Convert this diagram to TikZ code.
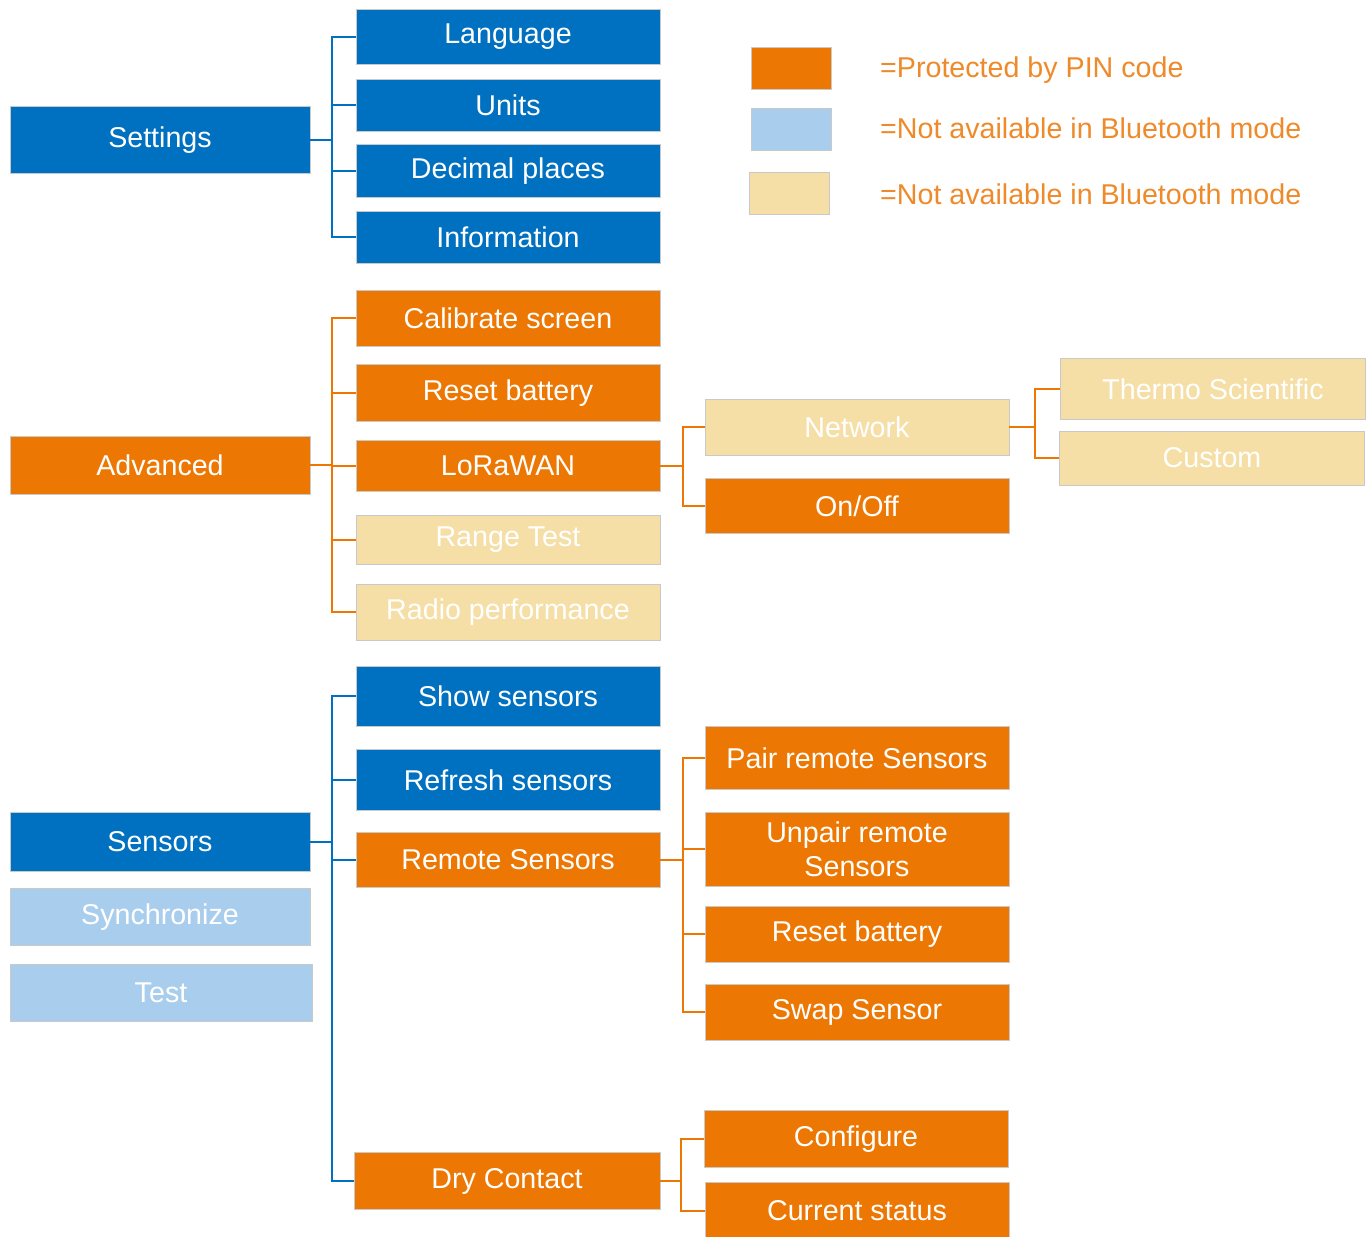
\documentclass[tikz,border=0pt]{standalone}
\usepackage{fontspec}
\setmainfont{Liberation Sans}
\usepackage{tikz}
\usetikzlibrary{positioning}
\definecolor{TSblue}{HTML}{0070C0}
\definecolor{TSorange}{HTML}{ED7703}
\definecolor{TSlightblue}{HTML}{A9CDED}
\definecolor{TSbeige}{HTML}{F5DFA6}
\definecolor{TSedge}{HTML}{C9C9C9}
\definecolor{TSlegend}{HTML}{EF8A2A}

\tikzset{
  menubox/.style={rectangle, draw=TSedge, line width=0.3pt, text=white,
    font=\fontsize{16.3}{19.5}\selectfont, minimum width=6.08cm,
    minimum height=1.1cm, inner sep=0pt, align=center},
  topbox/.style={menubox, minimum width=6cm, minimum height=1.16cm},
  bluebox/.style={fill=TSblue},
  pinbox/.style={fill=TSorange},
  nobtbox/.style={fill=TSlightblue},
  beigebox/.style={fill=TSbeige},
  legendbox/.style={rectangle, draw=TSedge, line width=0.3pt,
    minimum width=1.6cm, minimum height=0.84cm, inner sep=0pt},
  legendtext/.style={anchor=west, text=TSlegend, font=\fontsize{16.3}{19}\selectfont},
  bluelink/.style={draw=TSblue, line width=1.1pt},
  orangelink/.style={draw=TSorange, line width=1.1pt}
}

\begin{document}
\begin{tikzpicture}[x=0.02cm, y=-0.02cm]
  \useasboundingbox[fill=white] (0,0) rectangle (1369,1237);

  % legend
  \node[legendbox, pinbox] (key-pin) at (791,68) {};
  \node[legendbox, nobtbox] (key-bt) at (791,129) {};
  \node[legendbox, beigebox] (key-beige) at (789,193) {};
  \node[legendtext] (key-pin-text) at (874,70) {=Protected by PIN code};
  \node[legendtext] (key-bt-text) at (874,128) {=Not available in Bluetooth mode};
  \node[legendtext] (key-beige-text) at (874,194) {=Not available in Bluetooth mode};

  % settings
  \node[topbox, bluebox, minimum height=1.34cm] (settings) at (160,140) {Settings};
  \node[menubox, bluebox] (language) at (508,37) {Language};
  \node[menubox, bluebox, minimum height=1.04cm] (units) at (508,105) {Units};
  \node[menubox, bluebox, minimum height=1.06cm] (decimal) at (508,171) {Decimal places};
  \node[menubox, bluebox, minimum height=1.04cm] (information) at (508,237) {Information};

  \coordinate (settings-t) at (332,140);
  \draw[bluelink] (settings.east) -- (settings-t);
  \foreach \c in {language,units,decimal,information}
    \draw[bluelink] (settings-t) |- (\c.west);

  % advanced
  \node[topbox, pinbox] (advanced) at (160,465) {Advanced};
  \node[menubox, pinbox, minimum height=1.12cm] (calibrate) at (508,318) {Calibrate screen};
  \node[menubox, pinbox, minimum height=1.14cm] (resetbat) at (508,393) {Reset battery};
  \node[menubox, pinbox, minimum height=1.02cm] (lorawan) at (508,466) {LoRaWAN};
  \node[menubox, beigebox, minimum height=0.98cm] (rangetest) at (508,540) {Range Test};
  \node[menubox, beigebox, minimum height=1.12cm] (radioperf) at (508,612) {Radio performance};

  \node[menubox, beigebox, minimum height=1.12cm] (network) at (857,427) {Network};
  \node[menubox, pinbox] (onoff) at (857,506) {On/Off};
  \node[menubox, beigebox, minimum width=6.1cm, minimum height=1.22cm] (thermo) at (1213,389) {Thermo Scientific};
  \node[menubox, beigebox, minimum width=6.1cm, minimum height=1.08cm] (custom) at (1212,458) {Custom};

  \coordinate (advanced-t) at (332,465);
  \draw[orangelink] (advanced.east) -- (advanced-t);
  \foreach \c in {calibrate,resetbat,lorawan,rangetest,radioperf}
    \draw[orangelink] (advanced-t) |- (\c.west);

  \coordinate (lorawan-t) at (683,466);
  \draw[orangelink] (lorawan.east) -- (lorawan-t);
  \foreach \c in {network,onoff}
    \draw[orangelink] (lorawan-t) |- (\c.west);

  \coordinate (network-t) at (1035,427);
  \draw[orangelink] (network.east) -- (network-t);
  \foreach \c in {thermo,custom}
    \draw[orangelink] (network-t) |- (\c.west);

  % sensors
  \node[topbox, bluebox, minimum height=1.18cm] (sensors) at (160,842) {Sensors};
  \node[topbox, nobtbox, minimum height=1.14cm] (synchronize) at (160,917) {Synchronize};
  \node[topbox, nobtbox, minimum width=6.04cm, minimum height=1.14cm] (test) at (161,993) {Test};

  \node[menubox, bluebox, minimum height=1.2cm] (showsensors) at (508,696) {Show sensors};
  \node[menubox, bluebox, minimum height=1.22cm] (refresh) at (508,780) {Refresh sensors};
  \node[menubox, pinbox] (remote) at (508,860) {Remote Sensors};
  \node[menubox, pinbox, minimum width=6.12cm, minimum height=1.14cm] (drycontact) at (507,1181) {Dry Contact};

  \node[menubox, pinbox, minimum height=1.26cm] (pair) at (857,758) {Pair remote Sensors};
  \node[menubox, pinbox, minimum height=1.48cm] (unpair) at (857,849) {Unpair remote\\Sensors};
  \node[menubox, pinbox, minimum height=1.12cm] (resetbat2) at (857,934) {Reset battery};
  \node[menubox, pinbox, minimum height=1.12cm] (swap) at (857,1012) {Swap Sensor};
  \node[menubox, pinbox, minimum height=1.14cm] (configure) at (856,1139) {Configure};
  \node[menubox, pinbox, minimum height=1.14cm] (current) at (857,1211) {Current status};

  \coordinate (sensors-t) at (332,842);
  \draw[bluelink] (sensors.east) -- (sensors-t);
  \foreach \c in {showsensors,refresh,remote,drycontact}
    \draw[bluelink] (sensors-t) |- (\c.west);

  \coordinate (remote-t) at (683,860);
  \draw[orangelink] (remote.east) -- (remote-t);
  \foreach \c in {pair,unpair,resetbat2,swap}
    \draw[orangelink] (remote-t) |- (\c.west);

  \coordinate (dry-t) at (681,1181);
  \draw[orangelink] (drycontact.east) -- (dry-t);
  \foreach \c in {configure,current}
    \draw[orangelink] (dry-t) |- (\c.west);
\end{tikzpicture}
\end{document}
